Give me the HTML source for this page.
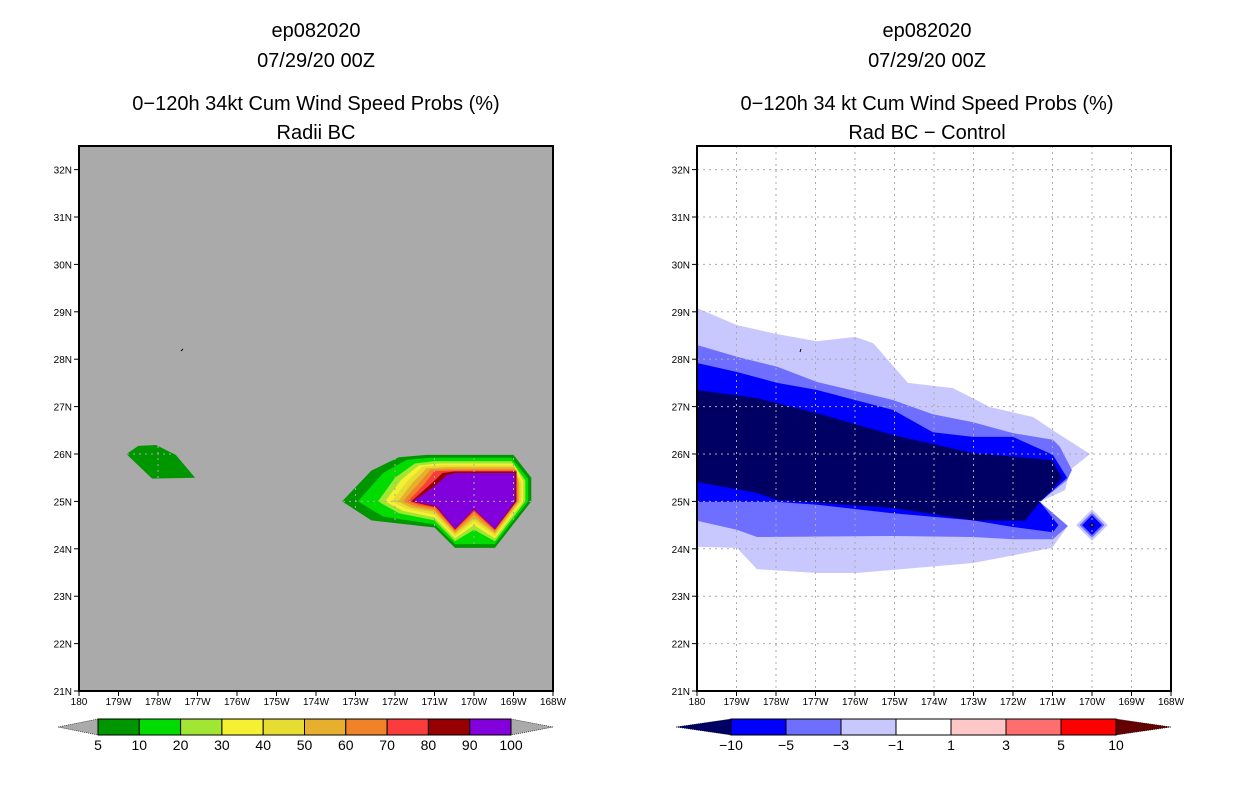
<!DOCTYPE html>
<html><head><meta charset="utf-8"><style>
body{margin:0;background:#fff;width:1236px;height:800px;overflow:hidden}
svg text{font-family:"Liberation Sans",sans-serif;fill:#000}
</style></head><body>
<svg id="chart" width="1236" height="800" viewBox="0 0 1236 800" xmlns="http://www.w3.org/2000/svg"></svg>
<script>
// ---- data ----
const lonTicks=[-180,-179,-178,-177,-176,-175,-174,-173,-172,-171,-170,-169,-168];
const lonLabels=["180","179W","178W","177W","176W","175W","174W","173W","172W","171W","170W","169W","168W"];
const latTicks=[21,22,23,24,25,26,27,28,29,30,31,32];
const latLabels=["21N","22N","23N","24N","25N","26N","27N","28N","29N","30N","31N","32N"];
const probLevels=["5","10","20","30","40","50","60","70","80","90","100"];
const probColors=["#009600","#00dc00","#a0e632","#f5f032","#e6dc32","#e6af2d","#f08228","#fa3c3c","#960000","#8200dc"];
const diffLevels=["-10","-5","-3","-1","1","3","5","10"];
const diffColors=["#0000ff","#6e6eff","#c8c8ff","#ffffff","#ffc8c8","#ff6e6e","#ff0000"];
// left blob near 178W
const blobWest=[[-178.8,26.0],[-178.5,26.17],[-178.05,26.19],[-177.55,25.98],[-177.06,25.5],[-178.15,25.48]];
// nested probability contours (lon,lat), levels 5..90
const probContours=[
 [[-173.34,25.0],[-172.6,25.65],[-171.9,25.93],[-171.2,25.98],[-169.0,25.98],[-168.55,25.5],[-168.55,25.0],[-169.47,24.02],[-170.48,24.02],[-171.0,24.45],[-172.6,24.6]],
 [[-172.94,25.0],[-172.3,25.6],[-171.7,25.88],[-171.1,25.92],[-169.05,25.92],[-168.63,25.48],[-168.63,25.0],[-169.47,24.1],[-170.48,24.1],[-171.0,24.52],[-172.3,24.68]],
 [[-172.43,25.0],[-172.0,25.5],[-171.5,25.8],[-171.0,25.85],[-169.05,25.85],[-168.7,25.45],[-168.7,25.0],[-169.47,24.16],[-170.0,24.4],[-170.48,24.16],[-171.0,24.6],[-171.9,24.75]],
 [[-172.25,25.0],[-171.85,25.45],[-171.4,25.76],[-170.9,25.8],[-169.0,25.8],[-168.75,25.43],[-168.75,25.0],[-169.47,24.22],[-170.0,24.5],[-170.48,24.22],[-171.0,24.66],[-171.8,24.8]],
 [[-172.08,25.0],[-171.7,25.42],[-171.3,25.73],[-170.8,25.76],[-169.0,25.76],[-168.8,25.4],[-168.8,25.0],[-169.47,24.27],[-170.0,24.58],[-170.48,24.27],[-171.0,24.72],[-171.7,24.84]],
 [[-171.92,25.0],[-171.55,25.4],[-171.2,25.7],[-170.7,25.72],[-168.98,25.72],[-168.85,25.4],[-168.85,25.0],[-169.47,24.32],[-170.0,24.65],[-170.48,24.32],[-171.0,24.78],[-171.6,24.87]],
 [[-171.8,25.0],[-171.4,25.38],[-171.1,25.67],[-170.6,25.68],[-168.95,25.68],[-168.88,25.4],[-168.88,25.0],[-169.47,24.36],[-170.0,24.72],[-170.48,24.36],[-171.0,24.82],[-171.5,24.9]],
 [[-171.67,25.0],[-171.25,25.37],[-171.0,25.64],[-170.55,25.65],[-168.92,25.65],[-168.92,25.0],[-169.47,24.39],[-170.0,24.78],[-170.48,24.39],[-170.98,24.86],[-171.4,24.93]],
 [[-171.59,25.0],[-171.1,25.36],[-170.8,25.6],[-170.5,25.63],[-168.93,25.63],[-168.93,25.0],[-169.47,24.41],[-170.0,24.82],[-170.48,24.41],[-170.96,24.88],[-171.35,24.95]],
 [[-171.54,25.0],[-170.95,25.35],[-170.7,25.55],[-170.48,25.6],[-168.96,25.6],[-168.96,25.0],[-169.47,24.42],[-170.0,24.84],[-170.48,24.42],[-170.95,24.9],[-171.3,24.96]]
];
// difference contours: -1, -3, -5, -10
const diffContours=[
 [[-180,29.08],[-178.99,28.72],[-177.97,28.53],[-176.96,28.38],[-176.0,28.47],[-175.54,28.34],[-174.66,27.5],[-173.52,27.39],[-172.58,26.99],[-171.49,26.78],[-171.01,26.51],[-170.05,26.0],[-170.56,25.66],[-170.68,25.24],[-171.32,24.99],[-170.61,24.48],[-171.01,24.02],[-173.01,23.7],[-175.95,23.49],[-176.96,23.49],[-178.48,23.57],[-178.99,24.02],[-180,24.04]],
 [[-180,28.3],[-178.99,28.05],[-177.97,27.84],[-176.96,27.52],[-176.0,27.33],[-175.04,27.14],[-174.03,26.84],[-173.01,26.67],[-172.0,26.44],[-170.99,26.3],[-170.81,26.15],[-170.51,25.66],[-170.63,25.45],[-171.32,24.99],[-170.61,24.48],[-170.99,24.2],[-172.0,24.2],[-173.01,24.25],[-175.04,24.27],[-178.48,24.25],[-178.99,24.4],[-180,24.59]],
 [[-180,27.92],[-178.99,27.73],[-177.97,27.5],[-176.96,27.35],[-176.0,27.14],[-175.04,26.93],[-174.03,26.46],[-173.01,26.36],[-172.0,26.36],[-170.99,25.98],[-170.63,25.5],[-171.32,24.99],[-170.85,24.5],[-170.99,24.35],[-172.0,24.46],[-173.01,24.6],[-175.04,24.75],[-176.96,24.93],[-177.97,24.99],[-180,24.99]],
 [[-180,27.35],[-178.48,27.18],[-176.96,26.86],[-175.04,26.4],[-173.01,26.02],[-171.01,25.87],[-170.76,25.5],[-171.06,25.2],[-171.32,24.99],[-171.7,24.59],[-173.01,24.6],[-175.04,24.86],[-177.97,25.03],[-178.48,25.18],[-180,25.41]]
];
const diffDiamond=[-170.0,24.5];
const diamondRadii=[0.4,0.32,0.25,0.08];

// ---- helpers ----
const NS="http://www.w3.org/2000/svg";
const svg=document.getElementById('chart');
function mk(tag,attrs,parent){const e=document.createElementNS(NS,tag);for(const k in attrs)e.setAttribute(k,attrs[k]);(parent||svg).appendChild(e);return e;}
const Y0=691,Y1=146,LAT0=21,LATPX=47.4,LONPX=39.5;
function yS(lat){return Y0-(lat-LAT0)*LATPX;}
function xS(x0,lon){return x0+(lon+180)*LONPX;}
function pts(x0,arr){return arr.map(p=>xS(x0,p[0]).toFixed(1)+","+yS(p[1]).toFixed(1)).join(" ");}

function panel(x0,bg,name,titles,cx){
  const g=mk('g',{});
  
  
  const r=mk('rect',{x:x0,y:Y1,width:474,height:Y0-Y1,fill:bg},g);
  
  
  titles.forEach((t,i)=>{const tx=mk('text',{x:cx,y:[37,67,110,139][i],'font-size':20,'text-anchor':'middle'},g);tx.textContent=t;
    
    });
  return g;
}
function grid(g,x0){
  lonTicks.slice(1,-1).forEach(l=>mk('line',{x1:xS(x0,l),x2:xS(x0,l),y1:Y1,y2:Y0,stroke:'#aaa','stroke-dasharray':'2,4','stroke-width':1},g));
  latTicks.slice(1).forEach(l=>mk('line',{x1:x0,x2:x0+474,y1:yS(l),y2:yS(l),stroke:'#aaa','stroke-dasharray':'2,4','stroke-width':1},g));
}
function axes(g,x0){
  const f=mk('rect',{x:x0,y:Y1,width:474,height:Y0-Y1,fill:'none',stroke:'#000','stroke-width':2},g);
  
  
  lonTicks.forEach((l,i)=>{const x=xS(x0,l);mk('line',{x1:x,x2:x,y1:Y0,y2:Y0+5,stroke:'#000'},g);
    const t=mk('text',{x:x,y:Y0+14,'font-size':10,'text-anchor':'middle'},g);t.textContent=lonLabels[i];
    
    });
  latTicks.forEach((l,i)=>{const y=yS(l);mk('line',{x1:x0-5,x2:x0,y1:y,y2:y,stroke:'#000'},g);
    const t=mk('text',{x:x0-7,y:y+4,'font-size':10,'text-anchor':'end'},g);t.textContent=latLabels[i];
    
    });
}
function colorbar(tipL,bx,bEnd,tipR,levels,colors,leftTri,rightTri,name){
  const g=mk('g',{});
  
  
  const y=719,h=16,bw=(bEnd-bx)/colors.length;
  mk('polygon',{points:`${tipL},${y+h/2} ${bx},${y} ${bx},${y+h}`,fill:leftTri,stroke:'#000','stroke-width':0.6,'stroke-dasharray':'1,1'},g);
  mk('polygon',{points:`${tipR},${y+h/2} ${bEnd},${y} ${bEnd},${y+h}`,fill:rightTri,stroke:'#000','stroke-width':0.6,'stroke-dasharray':'1,1'},g);
  colors.forEach((c,i)=>{const r=mk('rect',{x:bx+i*bw,y:y,width:bw,height:h,fill:c,stroke:'#000','stroke-width':1},g);
    
    });
  levels.forEach((l,i)=>{const t=mk('text',{x:bx+i*bw,y:y+h+15,'font-size':14,'text-anchor':'middle'},g);t.textContent=l.replace('-','\u2212');
    
    });
}

// ---- left panel ----
const L=79;
const gl=panel(L,'#aaaaaa','left-panel',["ep082020","07/29/20 00Z","0\u2212120h 34kt Cum Wind Speed Probs (%)","Radii BC"],316);
mk('polygon',{points:pts(L,blobWest),fill:probColors[0]},gl);
probContours.forEach((c,i)=>{const p=mk('polygon',{points:pts(L,c),fill:probColors[i]},gl);
  
  });
grid(gl,L);
mk('line',{x1:181,y1:351,x2:183,y2:349,stroke:'#000'},gl);
axes(gl,L);
colorbar(58,98,511,553,probLevels,probColors,'#aaaaaa','#aaaaaa','left-colorbar');

// ---- right panel ----
const R=697;
const gr=panel(R,'#ffffff','right-panel',["ep082020","07/29/20 00Z","0\u2212120h 34 kt Cum Wind Speed Probs (%)","Rad BC \u2212 Control"],927);
const diffFill=["#c8c8ff","#6e6eff","#0000ff","#000064"];
diffContours.forEach((c,i)=>{const p=mk('polygon',{points:pts(R,c),fill:diffFill[i]},gr);
  
  });
diamondRadii.forEach((r,i)=>{const cx=xS(R,diffDiamond[0]),cy=yS(diffDiamond[1]),d=r*LONPX;
  const p=mk('polygon',{points:`${cx-d},${cy} ${cx},${cy-d} ${cx+d},${cy} ${cx},${cy+d}`,fill:diffFill[i]},gr);
  
  });
grid(gr,R);
mk('line',{x1:800,y1:352,x2:801,y2:349,stroke:'#000'},gr);
axes(gr,R);
colorbar(676,731,1116,1171,diffLevels,diffColors,'#000064','#640000','right-colorbar');
</script>
</body></html>
